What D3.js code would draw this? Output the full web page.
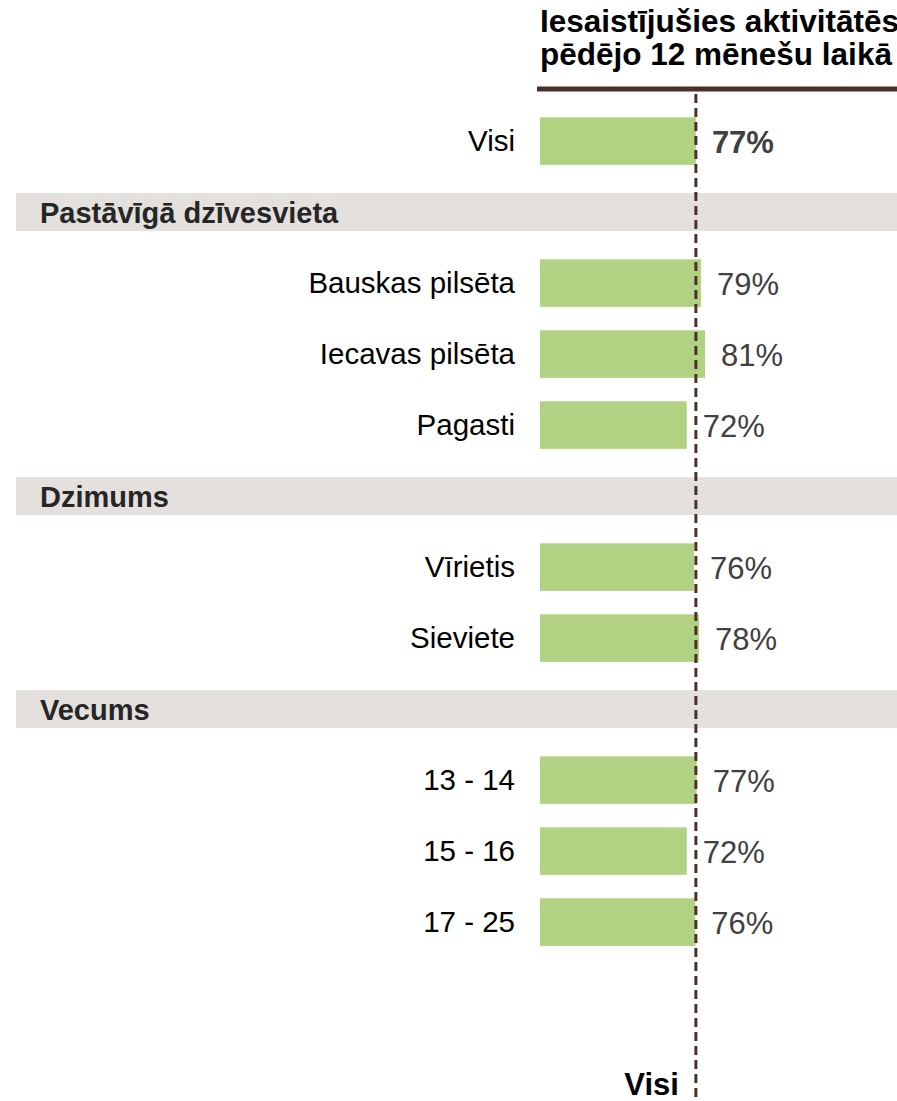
<!DOCTYPE html>
<html>
<head>
<meta charset="utf-8">
<script src="https://cdn.jsdelivr.net/npm/d3@7"></script>
<style>
	html, body { margin: 0; padding: 0; background: #fff; }
	svg { display: block; font-family: Arial, 'Liberation Sans', sans-serif; }
</style>
</head>
<body>
<div id="chart"></div>
<script>
// Data
const titleLines = ['Iesaistījušies aktivitātēs', 'pēdējo 12 mēnešu laikā'];
const groups = ['Pastāvīgā dzīvesvieta', 'Dzimums', 'Vecums'];
const categories = ['Visi', 'Bauskas pilsēta', 'Iecavas pilsēta', 'Pagasti', 'Vīrietis', 'Sieviete', '13 - 14', '15 - 16', '17 - 25'];
const categoryGroup = [-1, 0, 0, 0, 1, 1, 2, 2, 2]; // -1 = total row
const values = [76.6, 79.1, 81.1, 72.1, 75.7, 78.1, 77.0, 72.1, 76.3];
const referenceLabel = 'Visi';

const width = 897;
const height = 1101;

// Build row list (headers + categories)
const rows = [];
categories.forEach((c, i) => {
	const g = categoryGroup[i];
	if (g >= 0 && (i === 0 || categoryGroup[i - 1] !== g)) {
		rows.push({ type: 'header', key: 'h' + g, name: groups[g] });
	}
	rows.push({ type: 'bar', key: 'c' + i, name: c, value: values[i], total: g < 0 });
});

const svg = d3.select('#chart').append('svg').attr('width', width).attr('height', height);

const x = d3.scaleLinear().domain([0, 100]).range([540, 743.5]);
const y = d3
	.scaleBand()
	.domain(rows.map((d) => d.key))
	.range([105.6, 105.6 + rows.length * 71])
	.paddingInner(0.33)
	.paddingOuter(0.165);

const mid = (k) => y(k) + y.bandwidth() / 2;

// Title (runs past the right edge, as in the original)
const title = svg.append('text').attr('font-size', 31.5).attr('font-weight', 'bold').attr('fill', '#000');
titleLines.forEach((t, i) => {
	title.append('tspan').attr('x', 540).attr('y', 32 + i * 33).text(t);
});
svg.append('line').attr('x1', 537).attr('x2', width).attr('y1', 89).attr('y2', 89).attr('stroke', '#4b3228').attr('stroke-width', 5);

// Header bands
const headers = rows.filter((d) => d.type === 'header');
svg
	.selectAll('.hdr-bg')
	.data(headers)
	.enter()
	.append('rect')
	.attr('class', 'hdr-bg')
	.attr('x', 16)
	.attr('width', width - 16)
	.attr('y', (d) => mid(d.key) - 19)
	.attr('height', 38)
	.attr('fill', '#e4e0dd');

svg
	.selectAll('.hdr-txt')
	.data(headers)
	.enter()
	.append('text')
	.attr('class', 'hdr-txt')
	.attr('x', 40)
	.attr('y', (d) => mid(d.key))
	.attr('dy', '0.36em')
	.attr('font-size', 29)
	.attr('font-weight', 'bold')
	.attr('fill', '#262626')
	.text((d) => d.name);

// Bars
const bars = rows.filter((d) => d.type === 'bar');
svg
	.selectAll('.bar')
	.data(bars)
	.enter()
	.append('rect')
	.attr('class', 'bar')
	.attr('x', x(0))
	.attr('y', (d) => y(d.key))
	.attr('width', (d) => x(d.value) - x(0))
	.attr('height', y.bandwidth())
	.attr('fill', '#b1d283');

// Category labels
svg
	.selectAll('.cat')
	.data(bars)
	.enter()
	.append('text')
	.attr('class', 'cat')
	.attr('x', 515)
	.attr('y', (d) => mid(d.key))
	.attr('dy', '0.35em')
	.attr('text-anchor', 'end')
	.attr('font-size', 29.5)
	.attr('fill', '#000')
	.text((d) => d.name);

// Value labels
svg
	.selectAll('.val')
	.data(bars)
	.enter()
	.append('text')
	.attr('class', 'val')
	.attr('x', (d) => x(d.value) + 16)
	.attr('y', (d) => mid(d.key) + 1)
	.attr('dy', '0.36em')
	.attr('font-size', 31)
	.attr('font-weight', (d) => (d.total ? 'bold' : 'normal'))
	.attr('fill', '#404040')
	.text((d) => Math.round(d.value) + '%');

// Reference line (total)
const refX = x(values[0]);
svg
	.append('line')
	.attr('x1', refX)
	.attr('x2', refX)
	.attr('y1', 94)
	.attr('y2', height)
	.attr('stroke', '#4b3228')
	.attr('stroke-width', 3)
	.attr('stroke-dasharray', '9,5');

svg
	.append('text')
	.attr('x', refX - 17)
	.attr('y', 1095)
	.attr('text-anchor', 'end')
	.attr('font-size', 31)
	.attr('font-weight', 'bold')
	.attr('fill', '#000')
	.text(referenceLabel);
</script>
</body>
</html>
